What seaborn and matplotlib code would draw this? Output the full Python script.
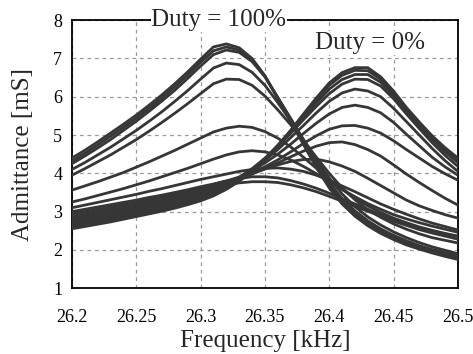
import pandas as pd
import matplotlib
matplotlib.use("Agg")
import matplotlib.pyplot as plt
import seaborn as sns

# frequency points [kHz], 26.20 ... 26.50 in 0.01 steps
freqs = [26.20, 26.21, 26.22, 26.23, 26.24, 26.25, 26.26, 26.27, 26.28, 26.29,
         26.30, 26.31, 26.32, 26.33, 26.34, 26.35, 26.36, 26.37, 26.38, 26.39,
         26.40, 26.41, 26.42, 26.43, 26.44, 26.45, 26.46, 26.47, 26.48, 26.49, 26.50]

# admittance [mS], one list per duty step
# near Duty = 100%
curve_a1 = [4.40, 4.60, 4.82, 5.05, 5.28, 5.52, 5.78, 6.05, 6.34, 6.65, 6.98, 7.30, 7.38, 7.28, 7.00, 6.55,
            5.95, 5.35, 4.75, 4.15, 3.62, 3.20, 2.88, 2.63, 2.43, 2.27, 2.13, 2.02, 1.92, 1.83, 1.75]
curve_a2 = [4.32, 4.52, 4.74, 4.97, 5.20, 5.44, 5.70, 5.97, 6.26, 6.57, 6.90, 7.20, 7.30, 7.22, 6.96, 6.54,
            5.98, 5.40, 4.82, 4.22, 3.68, 3.26, 2.94, 2.69, 2.49, 2.32, 2.18, 2.06, 1.96, 1.88, 1.80]
curve_a3 = [4.25, 4.45, 4.66, 4.88, 5.12, 5.36, 5.62, 5.89, 6.17, 6.48, 6.80, 7.10, 7.22, 7.16, 6.92, 6.52,
            5.98, 5.44, 4.88, 4.30, 3.77, 3.34, 3.02, 2.76, 2.55, 2.38, 2.24, 2.11, 2.01, 1.93, 1.85]
curve_a4 = [4.10, 4.28, 4.48, 4.68, 4.90, 5.12, 5.36, 5.61, 5.88, 6.16, 6.46, 6.75, 6.88, 6.84, 6.64, 6.30,
            5.85, 5.37, 4.88, 4.36, 3.88, 3.46, 3.13, 2.86, 2.65, 2.47, 2.32, 2.19, 2.08, 1.99, 1.90]
curve_a5 = [3.95, 4.12, 4.30, 4.48, 4.68, 4.88, 5.10, 5.33, 5.57, 5.82, 6.08, 6.34, 6.46, 6.45, 6.30, 6.02,
            5.66, 5.27, 4.86, 4.42, 4.00, 3.62, 3.31, 3.05, 2.85, 2.68, 2.54, 2.42, 2.32, 2.25, 2.18]
curve_a6 = [3.56, 3.67, 3.78, 3.90, 4.02, 4.16, 4.30, 4.45, 4.60, 4.76, 4.92, 5.08, 5.18, 5.23, 5.20, 5.09,
            4.92, 4.69, 4.42, 4.13, 3.85, 3.58, 3.35, 3.15, 2.98, 2.83, 2.71, 2.60, 2.51, 2.43, 2.36]
curve_a7 = [3.25, 3.33, 3.42, 3.51, 3.60, 3.70, 3.80, 3.91, 4.02, 4.13, 4.25, 4.37, 4.48, 4.56, 4.59, 4.56,
            4.48, 4.35, 4.18, 3.99, 3.78, 3.58, 3.39, 3.21, 3.06, 2.92, 2.81, 2.71, 2.62, 2.54, 2.46]
# middle duty values
curve_c1 = [3.10, 3.17, 3.24, 3.31, 3.38, 3.45, 3.53, 3.60, 3.68, 3.76, 3.84, 3.91, 3.98, 4.05, 4.10, 4.13,
            4.14, 4.11, 4.05, 3.95, 3.82, 3.67, 3.52, 3.36, 3.20, 3.06, 2.93, 2.81, 2.70, 2.61, 2.52]
curve_c2 = [3.00, 3.06, 3.12, 3.18, 3.24, 3.30, 3.37, 3.43, 3.50, 3.57, 3.65, 3.72, 3.80, 3.86, 3.91, 3.91,
            3.88, 3.81, 3.72, 3.61, 3.48, 3.34, 3.20, 3.06, 2.92, 2.79, 2.68, 2.58, 2.50, 2.42, 2.35]
curve_c3 = [2.95, 3.00, 3.06, 3.12, 3.18, 3.24, 3.30, 3.36, 3.43, 3.50, 3.57, 3.64, 3.70, 3.75, 3.78, 3.78,
            3.76, 3.70, 3.62, 3.52, 3.40, 3.27, 3.14, 3.01, 2.88, 2.75, 2.64, 2.53, 2.44, 2.36, 2.28]
# near Duty = 0%
curve_b9 = [2.92, 2.98, 3.04, 3.10, 3.17, 3.24, 3.31, 3.38, 3.46, 3.54, 3.62, 3.71, 3.80, 3.90, 4.00, 4.11,
            4.22, 4.31, 4.36, 4.37, 4.30, 4.19, 4.05, 3.87, 3.68, 3.49, 3.30, 3.15, 3.03, 2.92, 2.83]
curve_b8 = [2.86, 2.92, 2.98, 3.04, 3.11, 3.18, 3.25, 3.32, 3.40, 3.48, 3.56, 3.65, 3.75, 3.86, 3.98, 4.12,
            4.27, 4.43, 4.58, 4.71, 4.80, 4.82, 4.75, 4.62, 4.45, 4.22, 3.98, 3.76, 3.55, 3.35, 3.17]
curve_b7 = [2.82, 2.88, 2.94, 3.00, 3.07, 3.14, 3.21, 3.28, 3.36, 3.44, 3.52, 3.62, 3.73, 3.86, 4.00, 4.17,
            4.35, 4.56, 4.78, 4.98, 5.15, 5.24, 5.25, 5.18, 5.05, 4.85, 4.62, 4.40, 4.18, 3.99, 3.82]
curve_b6 = [2.78, 2.84, 2.90, 2.96, 3.03, 3.10, 3.17, 3.24, 3.32, 3.40, 3.49, 3.60, 3.73, 3.88, 4.06, 4.27,
            4.50, 4.76, 5.04, 5.31, 5.55, 5.72, 5.78, 5.72, 5.58, 5.33, 5.02, 4.72, 4.42, 4.17, 3.95]
curve_b5 = [2.74, 2.80, 2.86, 2.92, 2.99, 3.06, 3.13, 3.20, 3.28, 3.37, 3.46, 3.58, 3.72, 3.90, 4.10, 4.34,
            4.62, 4.93, 5.25, 5.58, 5.88, 6.10, 6.20, 6.15, 6.00, 5.70, 5.35, 5.00, 4.65, 4.33, 4.05]
curve_b4 = [2.70, 2.76, 2.82, 2.88, 2.95, 3.02, 3.09, 3.16, 3.24, 3.33, 3.42, 3.54, 3.70, 3.89, 4.12, 4.39,
            4.70, 5.04, 5.40, 5.75, 6.08, 6.33, 6.46, 6.45, 6.28, 5.95, 5.55, 5.17, 4.80, 4.47, 4.18]
curve_b3 = [2.65, 2.71, 2.77, 2.83, 2.90, 2.97, 3.04, 3.11, 3.19, 3.28, 3.38, 3.50, 3.66, 3.86, 4.10, 4.39,
            4.72, 5.08, 5.47, 5.84, 6.20, 6.45, 6.58, 6.58, 6.38, 6.03, 5.62, 5.24, 4.88, 4.56, 4.28]
curve_b2 = [2.60, 2.66, 2.72, 2.78, 2.85, 2.92, 2.99, 3.06, 3.14, 3.23, 3.33, 3.46, 3.62, 3.83, 4.08, 4.38,
            4.73, 5.11, 5.52, 5.92, 6.30, 6.56, 6.69, 6.68, 6.46, 6.10, 5.68, 5.30, 4.93, 4.62, 4.35]
curve_b1 = [2.55, 2.61, 2.67, 2.73, 2.80, 2.87, 2.94, 3.01, 3.09, 3.18, 3.28, 3.41, 3.58, 3.79, 4.05, 4.36,
            4.72, 5.12, 5.55, 5.97, 6.36, 6.63, 6.76, 6.76, 6.52, 6.15, 5.72, 5.34, 4.98, 4.67, 4.40]

curves = [curve_a1, curve_a2, curve_a3, curve_a4, curve_a5, curve_a6, curve_a7,
          curve_c1, curve_c2, curve_c3,
          curve_b9, curve_b8, curve_b7, curve_b6, curve_b5, curve_b4, curve_b3, curve_b2, curve_b1]

x_ticks = [26.2, 26.25, 26.3, 26.35, 26.4, 26.45, 26.5]
x_tick_labels = ["26.2", "26.25", "26.3", "26.35", "26.4", "26.45", "26.5"]
y_ticks = [1, 2, 3, 4, 5, 6, 7, 8]

rows = []
for i, c in enumerate(curves):
    for f, v in zip(freqs, c, strict=True):
        rows.append({"curve": i, "freq": f, "adm": v})
df = pd.DataFrame(rows)

sns.set_style("white")
plt.rcParams['font.family'] = ['Liberation Serif', 'DejaVu Serif']

fig = plt.figure(figsize=(4.73, 3.54), dpi=100)
ax = fig.add_axes([0.152, 0.186, 0.816, 0.757])

line_col = "#363636"
sns.lineplot(data=df, x="freq", y="adm", hue="curve", palette=[line_col] * len(curves),
             legend=False, linewidth=2.0, ax=ax, zorder=3)

ax.set_xlim(26.2, 26.5)
ax.set_ylim(1, 8)
ax.set_xticks(x_ticks)
ax.set_xticklabels(x_tick_labels)
ax.set_yticks(y_ticks)
ax.grid(True, color="#9a9a9a", linestyle=(0, (3, 3)), linewidth=0.9)
ax.tick_params(direction="in", length=4, labelsize=13, colors="black")
ax.tick_params(axis="x", pad=15)
ax.tick_params(axis="y", pad=7)
for s in ax.spines.values():
    s.set_color("black")
    s.set_linewidth(1.3)

ax.set_xlabel("Frequency [kHz]", fontsize=18, labelpad=3)
ax.set_ylabel("Admittance [mS]", fontsize=18, labelpad=14)

ax.text(0.381, 1.0, "Duty = 100%", transform=ax.transAxes, ha="center", va="center",
        fontsize=18, zorder=5, clip_on=False,
        bbox=dict(facecolor="white", edgecolor="none", pad=0.5))
ax.text(26.432, 7.40, "Duty = 0%", ha="center", va="center", fontsize=18, zorder=5,
        bbox=dict(facecolor="white", edgecolor="none", pad=0.5))

fig.savefig("out.png", dpi=100)
